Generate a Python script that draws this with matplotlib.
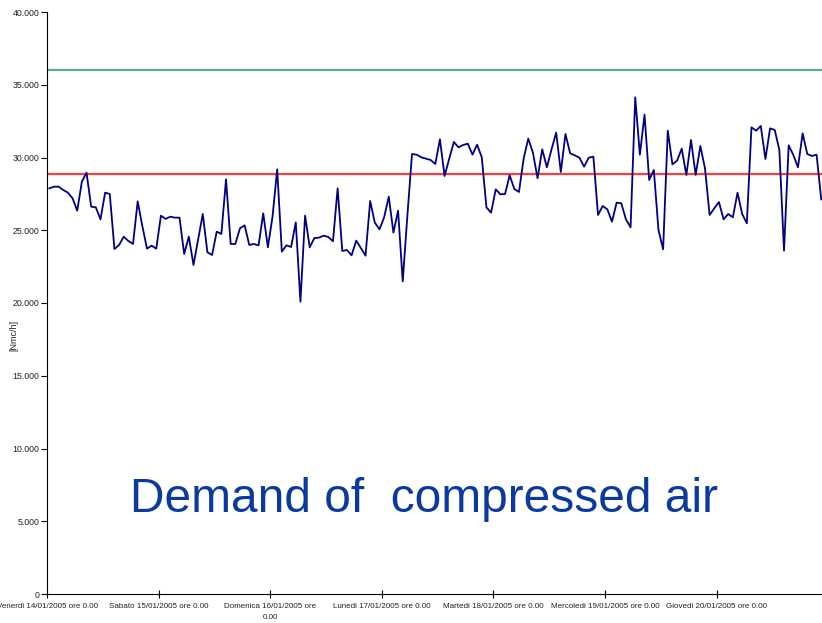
import matplotlib
matplotlib.use("Agg")
import matplotlib.pyplot as plt
import numpy as np

plt.rcParams['font.family'] = ['Liberation Sans', 'DejaVu Sans']

# hourly demand values [Nmc/h], starting Venerdi 14/01/2005 ore 0.00
demand = [
    27880, 27995, 27995, 27767, 27583, 27194, 26346, 28340, 28958, 26621,
    26575, 25750, 27583, 27492, 23712, 23987, 24560, 24262, 24056, 26987,
    25293, 23735, 23941, 23735, 26003, 25774, 25934, 25866, 25866, 23368,
    24560, 22612, 24377, 26117, 23483, 23299, 24903, 24743, 28500, 24056,
    24056, 25133, 25339, 23987, 24056, 23964, 26163, 23827, 25934, 29187,
    23529, 23964, 23849, 25545, 20092, 26003, 23827, 24468, 24491, 24629,
    24537, 24239, 27880, 23575, 23643, 23277, 24285, 23781, 23254, 27011,
    25522, 25064, 25889, 27309, 24835, 26346, 21489, 26000, 30241, 30195,
    30012, 29920, 29829, 29554, 31251, 28729, 29920, 31066, 30699, 30860,
    30951, 30195, 30882, 30012, 26575, 26209, 27812, 27468, 27492, 28775,
    27835, 27629, 29920, 31296, 30333, 28569, 30562, 29325, 30562, 31707,
    29004, 31616, 30287, 30149, 29989, 29370, 29989, 30058, 26049, 26667,
    26438, 25591, 26896, 26850, 25750, 25201, 34135, 30195, 32944, 28454,
    29141, 25018, 23690, 31845, 29531, 29783, 30608, 28798, 31204, 28798,
    30791, 29256, 26049, 26507, 26942, 25750, 26117, 25889, 27583, 26117,
    25476, 32073, 31845, 32166, 29898, 32005, 31891, 30516, 23597, 30837,
    30172, 29325, 31662, 30241, 30104, 30195, 27125,
]
limit_high = 36000
limit_mean = 28900

day_labels = [
    "Venerdi 14/01/2005 ore 0.00",
    "Sabato 15/01/2005 ore 0.00",
    "Domenica 16/01/2005 ore\n0.00",
    "Lunedi 17/01/2005 ore 0.00",
    "Martedi 18/01/2005 ore 0.00",
    "Mercoledi 19/01/2005 ore 0.00",
    "Giovedi 20/01/2005 ore 0.00",
]
y_ticks = [0, 5000, 10000, 15000, 20000, 25000, 30000, 35000, 40000]
y_tick_labels = ["0", "5.000", "10.000", "15.000", "20.000", "25.000", "30.000", "35.000", "40.000"]

W, H = 822, 623
fig = plt.figure(figsize=(W / 100, H / 100), dpi=100)
n_hours = 167
left = 47 / W
bottom = (H - 594) / H
top = (H - 12) / H
width = (n_hours * 4.65) / W
ax = fig.add_axes([left, bottom, width, top - bottom])

x = np.arange(len(demand)) + 0.5
ax.axhline(limit_high, color='#5cae86', lw=1.6, zorder=2)
ax.axhline(limit_mean, color='#ff3b3b', lw=1.6, zorder=2)
ax.plot(x, demand, color='#000080', lw=1.3, zorder=3)

ax.set_xlim(0, n_hours)
ax.set_ylim(0, 40000)
ax.set_yticks(y_ticks)
ax.set_yticklabels(y_tick_labels, fontsize=6.3, color='#222222')
ax.set_xticks(np.arange(len(day_labels)) * 24)
ax.set_xticklabels(day_labels, fontsize=5.8, linespacing=1.75, color='#222222')
ax.tick_params(axis='y', direction='out', length=4, width=0.8, pad=1.5)
ax.tick_params(axis='x', direction='inout', length=6, width=0.8, pad=3.5)
for s in ['top', 'right']:
    ax.spines[s].set_visible(False)
for s in ['left', 'bottom']:
    ax.spines[s].set_linewidth(0.8)
ax.set_ylabel('[Nmc/h]', fontsize=6.5, color='#222222')
ax.yaxis.set_label_coords((18 - 47) / (n_hours * 4.65), 0.445)

fig.text(424 / W, (H - 512) / H, 'Demand of  compressed air', fontsize=34.5,
         color='#0a3aa0', ha='center', va='baseline')

fig.savefig('out.png', dpi=100)
